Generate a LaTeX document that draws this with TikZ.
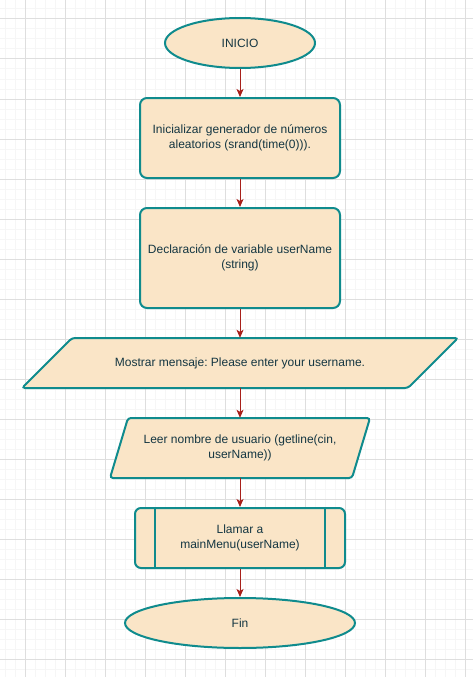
\documentclass[tikz,border=0pt]{standalone}
\usepackage{fontspec}
\setmainfont{Liberation Sans}
\frenchspacing
\usetikzlibrary{calc,shapes.geometric,arrows.meta}
\definecolor{boxfill}{HTML}{FAE5C7}
\definecolor{boxline}{HTML}{0F8B8D}
\definecolor{boxtext}{HTML}{143642}
\definecolor{flowred}{HTML}{A8201A}
\definecolor{gridminor}{HTML}{F6F6F6}
\definecolor{gridmajor}{HTML}{DEDEDE}
% parallelogram for input/output: name, x, y, width, height, skew, text
\newcommand{\tikzDataNode}[7]{
  \path[draw=boxline,fill=boxfill,line width=2pt,rounded corners=3pt]
    ({#2-#4/2},{#3+#5/2}) -- ++(#6,-#5) -- ({#2+#4/2},{#3-#5/2}) -- ++(-#6,#5) -- cycle;
  \node[text=boxtext,align=center,inner sep=0pt,minimum width=#4pt,minimum height=#5pt] (#1) at (#2,#3) {#7};
}

\begin{document}
\begin{tikzpicture}[x=1pt, y=-1pt, font=\fontsize{12pt}{15pt}\selectfont,
  terminal/.style={draw=boxline,fill=boxfill,line width=2pt,ellipse,text=boxtext,inner sep=0pt,minimum height=50pt},
  process/.style={draw=boxline,fill=boxfill,line width=2pt,rectangle,rounded corners=7pt,text=boxtext,align=center,minimum width=200pt},
  flow/.style={draw=flowred,line width=1pt,-{Stealth[length=8pt,width=7pt,inset=2pt]}}]
  \useasboundingbox[fill=white] (0,0) rectangle (473,677);

  % background grid
  \foreach \gx in {5,15,...,465} \draw[gridminor,line width=1pt] (\gx,0) -- (\gx,677);
  \foreach \gy in {9,19,...,669} \draw[gridminor,line width=1pt] (0,\gy) -- (473,\gy);
  \foreach \gx in {25,65,...,465} \draw[gridmajor,line width=1pt] (\gx,0) -- (\gx,677);
  \foreach \gy in {19,59,...,659} \draw[gridmajor,line width=1pt] (0,\gy) -- (473,\gy);

  \node [terminal,minimum width=150pt] (start) at (240,43) {INICIO};
  \node [process,minimum height=80pt] (init) at (240,138) {Inicializar generador de números\\aleatorios (srand(time(0))).};
  \node [process,minimum height=100pt] (decl) at (240,258) {Declaración de variable userName\\(string)};

  \tikzDataNode{show}{240}{363}{436}{50}{50}{Mostrar mensaje: Please enter your username.}
  \tikzDataNode{read}{240}{448}{260}{60}{18}{Leer nombre de usuario (getline(cin,\\userName))}

  \node [process,rounded corners=6pt,minimum width=210pt,minimum height=60pt] (call) at (240,538) {Llamar a\\mainMenu(userName)};
  \draw[boxline,line width=2pt] ($(call.north west)+(21,0)$) -- ($(call.south west)+(21,0)$);
  \draw[boxline,line width=2pt] ($(call.north east)-(21,0)$) -- ($(call.south east)-(21,0)$);

  \node [terminal,minimum width=230pt] (fin) at (240,623) {Fin};

  \path[flow] (start) -- (init);
  \path[flow] (init) -- (decl);
  \path[flow] (decl) -- (show);
  \path[flow] (show) -- (read);
  \path[flow] (read) -- (call);
  \path[flow] (call) -- (fin);
\end{tikzpicture}
\end{document}
